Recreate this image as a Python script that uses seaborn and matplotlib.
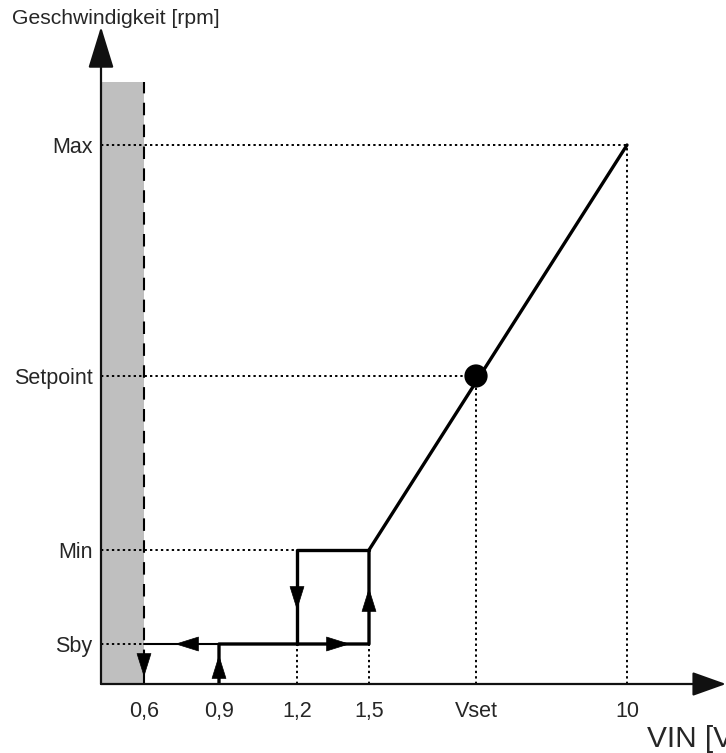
import matplotlib.pyplot as plt
import numpy as np
import pandas as pd
import seaborn as sns

sns.set_theme(style="white")
plt.rcParams.update({
    "font.family": ["Liberation Sans", "DejaVu Sans"],
    "font.size": 15,
})

# schematic positions on the voltage axis (origin = 0) and their labels
x_labels = ["0,6", "0,9", "1,2", "1,5", "Vset", "10"]
x_pos = [0.43, 1.18, 1.96, 2.68, 3.75, 5.26]
# speed levels
y_labels = ["Sby", "Min", "Setpoint", "Max"]
y_pos = [0.40, 1.34, 3.08, 5.39]
band_top = 6.02  # top of the grey "off" zone

X06, X09, X12, X15, XSET, X10 = x_pos
SBY, MIN, SET, MAX = y_pos

# ------------------------------------------------------------------
fig = plt.figure(figsize=(7.26, 7.53), dpi=100)
ax = fig.add_axes([101 / 726, 69 / 753, 625 / 726, 654 / 753])
ax.set_xlim(0, 6.25)
ax.set_ylim(0, 6.54)
sns.despine(ax=ax, left=True, bottom=True)

# grey band + dashed limit at 0,6
ax.fill_between([0, X06], 0, band_top, color="#bfbfbf", lw=0, zorder=1)
ax.plot([X06, X06], [0, band_top], color="black", lw=1.5,
        ls=(0, (6, 4.5)), zorder=2)

# dotted guide lines
dot = dict(color="black", lw=1.4, ls=(0, (1.2, 1.6)), zorder=2)
for lvl, xe in zip(y_pos, [X06, X12, XSET, X10]):
    ax.plot([0, xe], [lvl, lvl], **dot)
for xv, lvl in zip([X12, X15, XSET, X10], [SBY, SBY, SET, MAX]):
    ax.plot([xv, xv], [0, lvl], **dot)

# characteristic curve
main = pd.DataFrame({"x": [X09, X09, X15, X15, X10],
                     "y": [0, SBY, SBY, MIN, MAX]})
loop = pd.DataFrame({"x": [X12, X12, X15], "y": [SBY, MIN, MIN]})
thin = pd.DataFrame({"x": [X06, X09], "y": [SBY, SBY]})
for df, lw in [(main, 2.4), (loop, 2.4), (thin, 1.5)]:
    sns.lineplot(data=df, x="x", y="y", sort=False, estimator=None,
                 color="black", lw=lw, ax=ax, zorder=3)

sns.scatterplot(x=[XSET], y=[SET], s=280, color="black", edgecolor="none",
                ax=ax, zorder=4)

# direction arrows on the hysteresis path (tip, base)
hl = 0.22
arrows = [
    ((X06, 0.07), (X06, 0.07 + hl)),          # down at 0,6
    ((X09, 0.29), (X09, 0.29 - hl)),          # up at 0,9
    ((0.74, SBY), (0.74 + hl, SBY)),          # left on Sby
    ((X12, 0.74), (X12, 0.74 + hl)),          # down at 1,2
    ((2.49, SBY), (2.49 - hl, SBY)),          # right on Sby
    ((X15, 0.96), (X15, 0.96 - hl)),          # up at 1,5
]
for tip, base in arrows:
    ax.annotate("", xy=tip, xytext=base,
                arrowprops=dict(arrowstyle="-|>,head_length=1.6,head_width=0.5",
                                mutation_scale=10, color="black", lw=0.5,
                                shrinkA=0, shrinkB=0), zorder=5)

# axes with arrow heads
ax_arrow = dict(arrowstyle="-|>,head_length=2.6,head_width=0.8",
                mutation_scale=10, color="#111111", lw=1.6,
                shrinkA=0, shrinkB=0)
ax.annotate("", xy=(0, 1.005), xytext=(0, 0), xycoords="axes fraction",
            arrowprops=ax_arrow, annotation_clip=False)
ax.annotate("", xy=(1.0, 0), xytext=(0, 0), xycoords="axes fraction",
            arrowprops=dict(ax_arrow, arrowstyle="-|>,head_length=2.1,head_width=0.75"),
            annotation_clip=False)

ax.set_xticks(x_pos, x_labels)
ax.set_yticks(y_pos, y_labels)
ax.tick_params(axis="x", length=0, pad=12, labelsize=15.5)
ax.tick_params(axis="y", length=0, pad=6, labelsize=15.5)
ax.set_xlabel("")
ax.set_ylabel("")
ax.grid(False)

fig.text(12 / 726, 1 - 18 / 753, "Geschwindigkeit [rpm]", fontsize=15.2,
         ha="left", va="center")
fig.text(647 / 726, 1 - 739 / 753, "VIN [V]", fontsize=21.5,
         ha="left", va="center")

fig.savefig("out.png", dpi=100, facecolor="white")
